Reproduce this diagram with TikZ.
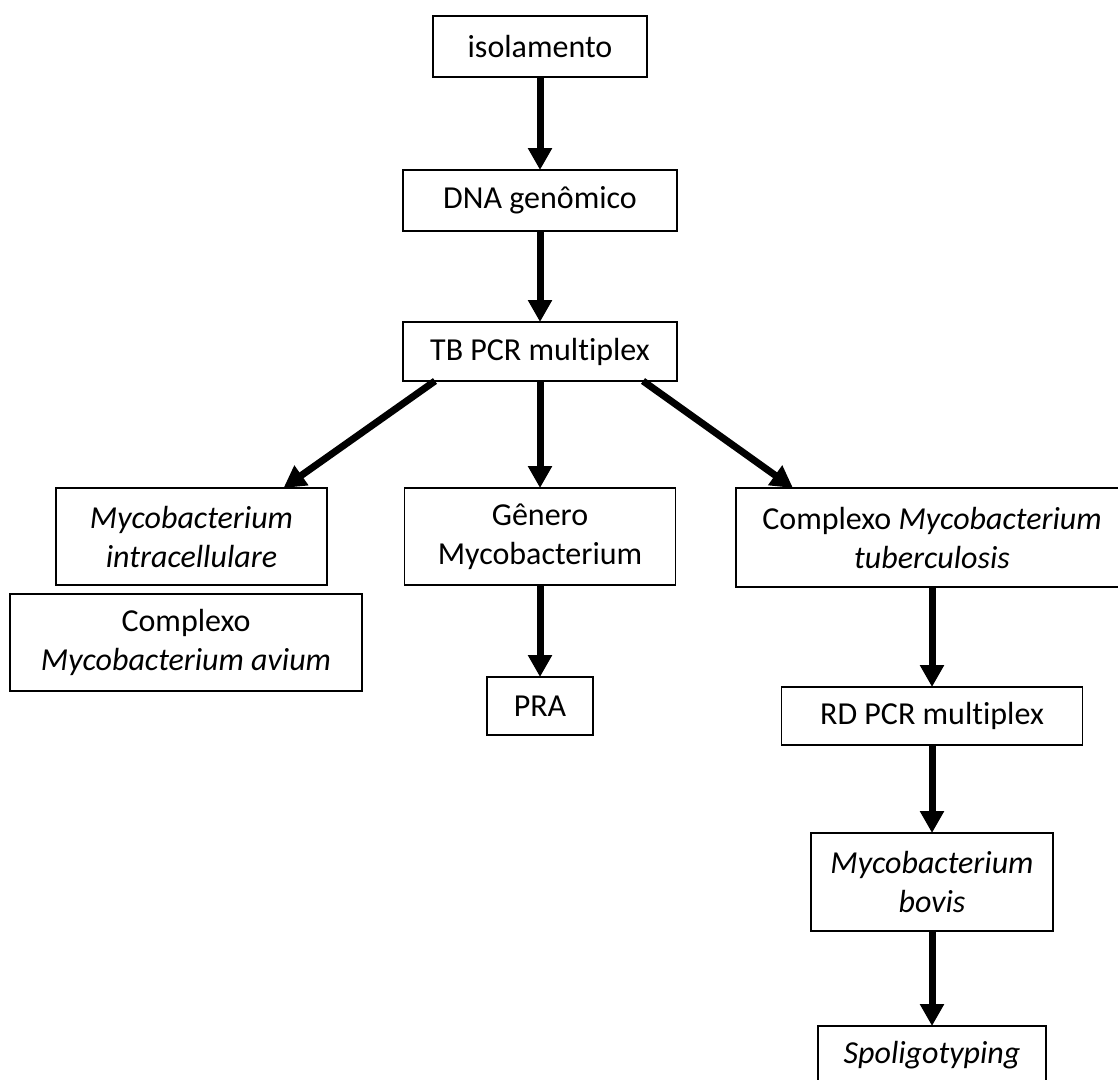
\documentclass[tikz,border=0pt]{standalone}
\usepackage{fontspec}
\setmainfont{Carlito}[Ligatures=NoCommon]
\usetikzlibrary{arrows.meta,positioning}

\begin{document}
\begin{tikzpicture}[
  x=1pt, y=-1pt,
  box/.style={draw=black, fill=white, line width=1.4pt, inner sep=0pt, outer sep=0pt,
              align=center, font=\fontsize{32}{39}\selectfont},
  arr/.style={-{Triangle[length=22pt, width=23pt]}, line width=7pt}
]
\useasboundingbox (0,0) rectangle (1118,1079);
\clip (0,0) rectangle (1118,1079);

% main column
\node[box, minimum width=214pt, minimum height=61pt] (iso) at (540,46.5) {isolamento};
\node[box, minimum width=274pt, minimum height=61pt, below=93pt of iso] (dna) {DNA genômico};
\node[box, minimum width=274pt, minimum height=59pt, below=91pt of dna] (tbpcr) {TB PCR multiplex};
\node[box, minimum width=271pt, minimum height=97pt, below=107pt of tbpcr] (genero) {Gênero\\Mycobacterium};
\node[box, minimum width=106pt, minimum height=58pt, below=92pt of genero] (pra) {PRA};

% left branch
\node[box, minimum width=271pt, minimum height=97pt] (intra) at (191.5,536.5)
     {\textit{Mycobacterium}\\\textit{intracellulare}};
\node[box, minimum width=352pt, minimum height=97pt] (avium) at (186,642.5)
     {Complexo\\\textit{Mycobacterium avium}};

% right branch
\node[box, minimum width=392pt, minimum height=99pt] (mtb) at (932,537.5)
     {Complexo \textit{Mycobacterium}\\\textit{tuberculosis}};
\node[box, minimum width=301pt, minimum height=58pt, below=100pt of mtb] (rd) {RD PCR multiplex};
\node[box, minimum width=242pt, minimum height=98pt, below=88pt of rd] (bovis)
     {\textit{Mycobacterium}\\\textit{bovis}};
\node[box, minimum width=228pt, minimum height=58pt, below=95pt of bovis] (spolig) {\textit{Spoligotyping}};

\draw[arr] (iso) -- (dna);
\draw[arr] (dna) -- (tbpcr);
\draw[arr] (tbpcr) -- (genero);
\draw[arr] (genero) -- (pra);
\draw[arr] ([xshift=-105pt]tbpcr.south) -- ([xshift=92pt]intra.north);
\draw[arr] ([xshift=103pt]tbpcr.south) -- ([xshift=-139pt]mtb.north);
\draw[arr] (mtb) -- (rd);
\draw[arr] (rd) -- (bovis);
\draw[arr] (bovis) -- (spolig);
\end{tikzpicture}
\end{document}
